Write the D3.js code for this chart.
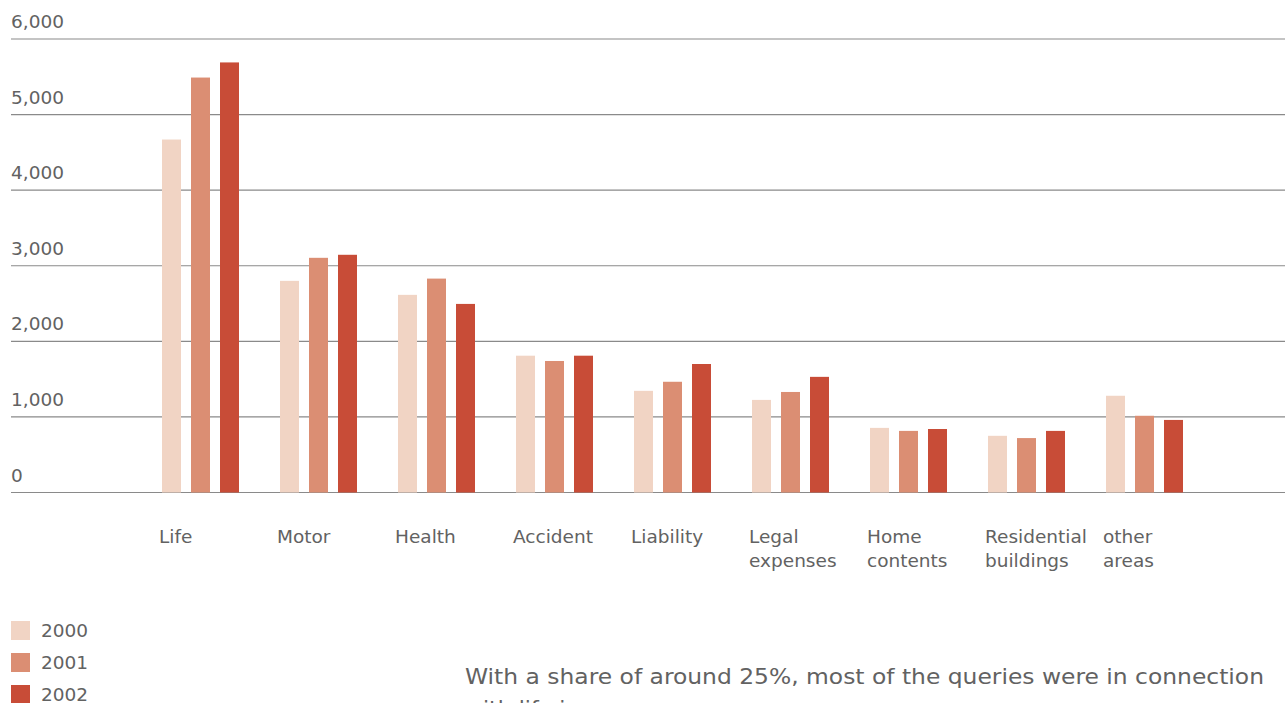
<!DOCTYPE html>
<html>
<head>
<meta charset="utf-8">
<script src="https://cdn.jsdelivr.net/npm/d3@7"></script>
<style>
  html, body { margin: 0; padding: 0; background: #fff; }
  svg { display: block; }
  text { font-family: "DejaVu Sans", Verdana, sans-serif; fill: #626262; }
</style>
</head>
<body>
<svg id="chart" width="1285" height="703"></svg>
<script>
// Insurance queries by line of business, per year
const categories = [
  ["Life"], ["Motor"], ["Health"], ["Accident"], ["Liability"],
  ["Legal", "expenses"], ["Home", "contents"], ["Residential", "buildings"], ["other", "areas"]
];
const years = ["2000", "2001", "2002"];
const values2000 = [4670, 2800, 2615, 1810, 1345, 1225, 855, 750, 1280];
const values2001 = [5490, 3105, 2830, 1740, 1465, 1330, 815, 720, 1015];
const values2002 = [5690, 3145, 2495, 1810, 1700, 1530, 840, 815, 960];
const yTicks = [0, 1000, 2000, 3000, 4000, 5000, 6000];
const colors = ["#f1d4c4", "#db8e73", "#c84c37"];
const caption = ["With a share of around 25%, most of the queries were in connection",
                 "with life insurance."];

const series = [values2000, values2001, values2002];
const svg = d3.select("#chart");
const catKeys = categories.map(c => c.join(" "));

const y = d3.scaleLinear().domain([0, 6000]).range([492.5, 39]);
const x = d3.scaleBand().domain(catKeys).range([162, 162 + 118 * 9]).padding(0);
const xi = d3.scaleBand().domain(years).range([0, 77]).paddingInner(10 / 29).paddingOuter(0);
const fmt = d3.format(",");

// horizontal gridlines
svg.append("g").selectAll("line").data(yTicks).join("line")
  .attr("x1", 11).attr("x2", 1285)
  .attr("y1", d => y(d)).attr("y2", d => y(d))
  .attr("stroke", "#8a8a8a").attr("stroke-width", 1.2);

// value labels above each gridline
svg.append("g").selectAll("text").data(yTicks).join("text")
  .attr("x", 11).attr("y", d => y(d) - 11)
  .attr("font-size", 18.5)
  .text(d => fmt(d));

// bars
const groups = svg.append("g").selectAll("g").data(catKeys).join("g")
  .attr("transform", d => `translate(${x(d)},0)`);
groups.selectAll("rect")
  .data((d, i) => years.map((yr, k) => ({ yr, k, v: series[k][i] })))
  .join("rect")
  .attr("x", d => xi(d.yr))
  .attr("width", xi.bandwidth())
  .attr("y", d => y(d.v))
  .attr("height", d => y(0) - y(d.v))
  .attr("fill", d => colors[d.k]);

// category labels
const cl = svg.append("g").selectAll("text").data(categories).join("text")
  .attr("x", (d, i) => x(catKeys[i]) - 3)
  .attr("y", 543)
  .attr("font-size", 18.5);
cl.selectAll("tspan").data(d => d).join("tspan")
  .attr("x", function () { return d3.select(this.parentNode).attr("x"); })
  .attr("dy", (d, i) => i === 0 ? 0 : 24)
  .text(d => d);

// legend
const lg = svg.append("g").selectAll("g").data(years).join("g")
  .attr("transform", (d, i) => `translate(11,${621 + i * 32})`);
lg.append("rect").attr("width", 19).attr("height", 19).attr("fill", (d, i) => colors[i]);
lg.append("text").attr("x", 30).attr("y", 16).attr("font-size", 18.5).text(d => d);

// caption
svg.append("g").selectAll("text").data(caption).join("text")
  .attr("x", 465).attr("y", (d, i) => 683.5 + i * 32.5)
  .attr("font-size", 22)
  .attr("textLength", (d, i) => i === 0 ? 799 : null)
  .attr("lengthAdjust", "spacingAndGlyphs")
  .text(d => d);
</script>
</body>
</html>
